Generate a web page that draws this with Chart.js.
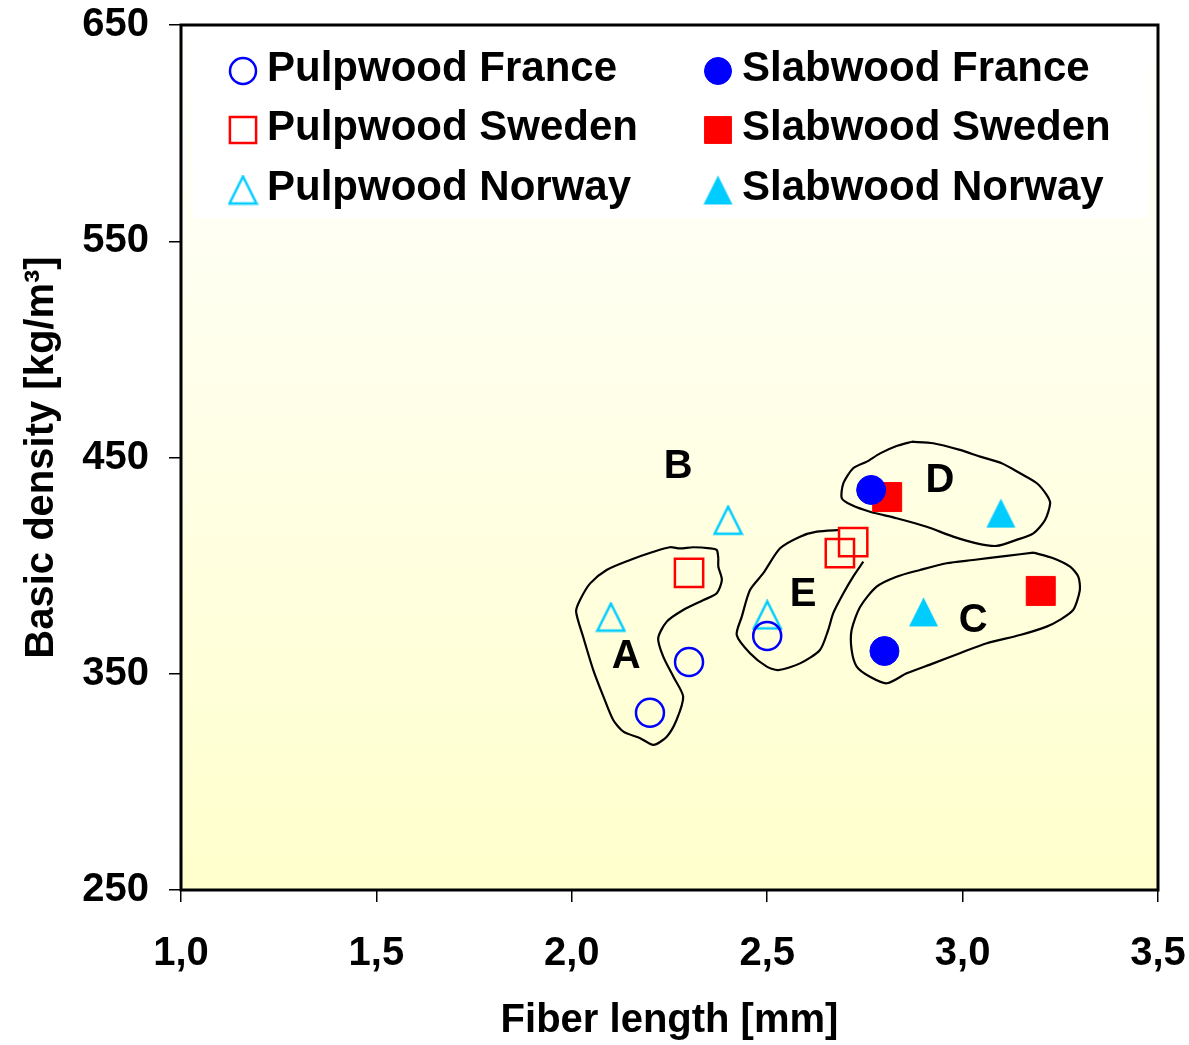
<!DOCTYPE html>
<html>
<head>
<meta charset="utf-8">
<script src="https://cdn.jsdelivr.net/npm/chart.js@4"></script>
<style>
  html, body { margin: 0; padding: 0; background: #fff; }
  #wrap { width: 1189px; height: 1045px; }
</style>
</head>
<body>
<div id="wrap"><canvas id="chart"></canvas></div>
<script>
const FONT = "'Liberation Sans', Arial, sans-serif";

// fibre length [mm] and basic density [kg/m3]
const pulpFranceX = [2.2, 2.3, 2.5];
const pulpFranceY = [332, 355.4, 367.5];
const pulpSwedenX = [2.3, 2.686, 2.72];
const pulpSwedenY = [396.6, 405.8, 410.9];
const pulpNorwayX = [2.1, 2.4, 2.5];
const pulpNorwayY = [376.2, 421, 377.2];
const slabFranceX = [2.766, 2.8];
const slabFranceY = [435, 360.5];
const slabSwedenX = [2.807, 3.2];
const slabSwedenY = [431.7, 388.3];
const slabNorwayX = [3.098, 2.9];
const slabNorwayY = [424.3, 378.6];

const seriesNames = [
  'Pulpwood France', 'Pulpwood Sweden', 'Pulpwood Norway',
  'Slabwood France', 'Slabwood Sweden', 'Slabwood Norway'
];

// hand drawn group outlines, in data units
const blobA = [
  [2.375, 403.4], [2.371, 407.2], [2.354, 408.0], [2.311, 408.5], [2.277, 408.0],
  [2.251, 408.5], [2.209, 406.4], [2.149, 402.6], [2.089, 398.0], [2.047, 391.8],
  [2.021, 384.1], [2.011, 378.7], [2.029, 367.1], [2.055, 351.7], [2.081, 339.4],
  [2.106, 328.6], [2.132, 323.2], [2.175, 320.2], [2.209, 317.1], [2.243, 320.9],
  [2.268, 328.6], [2.285, 339.4], [2.260, 348.6], [2.234, 357.9], [2.221, 366.4],
  [2.243, 374.1], [2.285, 379.5], [2.337, 384.1], [2.371, 387.2], [2.384, 393.4],
  [2.375, 399.5], [2.375, 403.4]
];
const blobE = [
  [2.746, 401.8], [2.720, 394.9], [2.695, 387.2], [2.669, 378.0], [2.656, 370.2],
  [2.635, 361.0], [2.584, 354.8], [2.528, 351.7], [2.499, 353.3], [2.456, 359.5],
  [2.422, 367.9], [2.435, 376.4], [2.456, 388.7], [2.490, 396.5], [2.533, 408.0],
  [2.584, 413.4], [2.627, 415.7], [2.686, 416.5]
];
const blobD = [
  [2.870, 457.3], [2.925, 456.6], [2.993, 453.5], [3.045, 450.4], [3.100, 447.3],
  [3.147, 442.7], [3.190, 438.1], [3.215, 432.7], [3.224, 428.8], [3.211, 421.1],
  [3.181, 414.9], [3.138, 411.9], [3.087, 409.1], [3.036, 410.3], [2.976, 413.4],
  [2.908, 418.0], [2.831, 421.9], [2.763, 424.9], [2.716, 428.0], [2.691, 431.1],
  [2.695, 438.1], [2.720, 445.0], [2.755, 448.1], [2.789, 451.9], [2.831, 455.3],
  [2.870, 457.3]
];
const blobC = [
  [3.181, 406.0], [3.232, 403.4], [3.275, 399.5], [3.296, 394.9], [3.300, 388.7],
  [3.283, 379.5], [3.249, 374.9], [3.215, 371.8], [3.147, 367.9], [3.062, 364.1],
  [2.993, 359.5], [2.925, 354.8], [2.857, 350.2], [2.806, 345.6], [2.763, 348.6],
  [2.729, 353.3], [2.716, 361.0], [2.716, 370.2], [2.738, 381.0], [2.780, 390.3],
  [2.831, 394.9], [2.891, 398.0], [2.959, 401.1], [3.027, 402.6], [3.113, 404.5],
  [3.181, 406.0]
];

const groupNames = ['A', 'B', 'C', 'D', 'E'];
const groupX = [2.139, 2.272, 3.027, 2.942, 2.592];
const groupY = [357.7, 445.6, 374.4, 439.1, 386.4];

const xTicks = [1.0, 1.5, 2.0, 2.5, 3.0, 3.5];
const yTicks = [250, 350, 450, 550, 650];

const BLUE = '#0000ff';
const RED = '#ff0000';
const CYAN = '#00ccff';

function points(xs, ys) {
  return xs.map((x, i) => ({ x, y: ys[i] }));
}

function pairs(list) {
  return list.map((p) => ({ x: p[0], y: p[1] }));
}

function triangleIcon(color, filled) {
  const size = 31;
  const c = document.createElement('canvas');
  c.width = size;
  c.height = size;
  const g = c.getContext('2d');
  const p = filled ? 1 : 2;
  g.beginPath();
  g.moveTo(size / 2, p);
  g.lineTo(size - p, size - p);
  g.lineTo(p, size - p);
  g.closePath();
  if (filled) {
    g.fillStyle = color;
    g.fill();
  } else {
    g.strokeStyle = color;
    g.lineWidth = 2.5;
    g.stroke();
  }
  return c;
}

function markerSet(label, data, style, color, filled, radius) {
  return {
    label,
    data,
    pointStyle: style,
    pointRadius: radius,
    pointHoverRadius: radius,
    pointBackgroundColor: filled ? color : 'rgba(0,0,0,0)',
    pointBorderColor: color,
    pointBorderWidth: filled ? 1 : 2.5,
    backgroundColor: filled ? color : 'rgba(0,0,0,0)',
    borderColor: color,
    showLine: false
  };
}

function outlineSet(label, data) {
  return {
    label,
    data: pairs(data),
    showLine: true,
    borderColor: '#000',
    borderWidth: 2.2,
    pointRadius: 0,
    pointHoverRadius: 0,
    tension: 0.25,
    fill: false,
    isOutline: true
  };
}

const markerSets = [
  markerSet(seriesNames[0], points(pulpFranceX, pulpFranceY), 'circle', BLUE, false, 14),
  markerSet(seriesNames[1], points(pulpSwedenX, pulpSwedenY), 'rect', RED, false, 20),
  markerSet(seriesNames[2], points(pulpNorwayX, pulpNorwayY), triangleIcon(CYAN, false), CYAN, false, 15),
  markerSet(seriesNames[3], points(slabFranceX, slabFranceY), 'circle', BLUE, true, 14.5),
  markerSet(seriesNames[4], points(slabSwedenX, slabSwedenY), 'rect', RED, true, 20.5),
  markerSet(seriesNames[5], points(slabNorwayX, slabNorwayY), triangleIcon(CYAN, true), CYAN, true, 15)
];

const outlineSets = [
  outlineSet('A', blobA),
  outlineSet('C', blobC),
  outlineSet('D', blobD),
  outlineSet('E', blobE)
];

const backdrop = {
  id: 'backdrop',
  beforeDraw(chart) {
    const { ctx, chartArea: a } = chart;
    ctx.save();
    ctx.fillStyle = '#ffffff';
    ctx.fillRect(0, 0, chart.width, chart.height);
    const grad = ctx.createLinearGradient(0, a.top, 0, a.bottom);
    grad.addColorStop(0, '#ffffff');
    grad.addColorStop(1, '#ffffcc');
    ctx.fillStyle = grad;
    ctx.fillRect(a.left, a.top, a.right - a.left, a.bottom - a.top);
    // legend panel
    ctx.fillStyle = '#ffffff';
    ctx.fillRect(a.left + 12, a.top + 2, a.right - a.left - 22, 191);
    ctx.restore();
  }
};

const overlay = {
  id: 'overlay',
  afterDatasetsDraw(chart) {
    const { ctx, chartArea: a, scales } = chart;
    ctx.save();
    // group letters
    ctx.fillStyle = '#000';
    ctx.font = `bold 40px ${FONT}`;
    ctx.textAlign = 'center';
    ctx.textBaseline = 'middle';
    groupNames.forEach((name, i) => {
      ctx.fillText(name, scales.x.getPixelForValue(groupX[i]), scales.y.getPixelForValue(groupY[i]));
    });

    // legend, two columns
    const colMarker = [62, 537];
    const colText = [86, 561];
    const rowY = [46, 105, 165];
    ctx.textAlign = 'left';
    ctx.font = `bold 42px ${FONT}`;
    chart.data.datasets.forEach((ds, i) => {
      if (ds.isOutline) return;
      const col = i < 3 ? 0 : 1;
      const row = i % 3;
      const mx = a.left + colMarker[col];
      const my = a.top + rowY[row];
      ctx.fillStyle = ds.pointBackgroundColor;
      ctx.strokeStyle = ds.pointBorderColor;
      ctx.lineWidth = ds.pointBorderWidth;
      const r = ds.pointStyle === 'rect' ? ds.pointRadius - 1.5 : ds.pointRadius - 1;
      Chart.helpers.drawPoint(ctx, {
        pointStyle: ds.pointStyle,
        radius: r,
        rotation: 0,
        borderWidth: ds.pointBorderWidth
      }, mx, my);
      ctx.fillStyle = '#000';
      ctx.fillText(ds.label, a.left + colText[col], my - 2);
    });
    ctx.restore();
  },
  afterDraw(chart) {
    const { ctx, chartArea: a } = chart;
    ctx.save();
    ctx.strokeStyle = '#000';
    ctx.lineWidth = 3;
    ctx.strokeRect(a.left, a.top, a.right - a.left, a.bottom - a.top);
    ctx.restore();
  }
};

Chart.defaults.font.family = FONT;
Chart.defaults.color = '#000';

new Chart(document.getElementById('chart'), {
  type: 'scatter',
  data: { datasets: [...markerSets, ...outlineSets] },
  options: {
    responsive: true,
    maintainAspectRatio: false,
    animation: false,
    layout: { padding: { top: 25, right: 31, left: 0, bottom: 0 } },
    plugins: {
      legend: { display: false },
      tooltip: { enabled: false }
    },
    scales: {
      x: {
        type: 'linear',
        min: xTicks[0],
        max: xTicks[xTicks.length - 1],
        afterBuildTicks: (scale) => { scale.ticks = xTicks.map((v) => ({ value: v })); },
        afterFit: (scale) => {
          scale.height = 155;
          scale.paddingLeft = 0;
          scale.paddingRight = 0;
        },
        ticks: {
          autoSkip: false,
          maxRotation: 0,
          padding: 28,
          font: { size: 40, weight: 'bold' },
          callback: (v) => v.toFixed(1).replace('.', ',')
        },
        grid: { drawOnChartArea: false, drawTicks: true, tickLength: 12, color: '#000', lineWidth: 1.5 },
        border: { display: false },
        title: {
          display: true,
          text: 'Fiber length [mm]',
          font: { size: 40, weight: 'bold' },
          padding: { top: 0, bottom: 0 }
        }
      },
      y: {
        type: 'linear',
        min: yTicks[0],
        max: yTicks[yTicks.length - 1],
        afterBuildTicks: (scale) => { scale.ticks = yTicks.map((v) => ({ value: v })); },
        afterFit: (scale) => {
          scale.width = 181;
          scale.paddingTop = 0;
          scale.paddingBottom = 0;
        },
        ticks: {
          autoSkip: false,
          padding: 20,
          font: { size: 40, weight: 'bold' }
        },
        grid: { drawOnChartArea: false, drawTicks: true, tickLength: 12, color: '#000', lineWidth: 1.5 },
        border: { display: false },
        title: {
          display: true,
          text: 'Basic density [kg/m³]',
          font: { size: 40, weight: 'bold' },
          padding: { top: 18, bottom: 0 }
        }
      }
    }
  },
  plugins: [backdrop, overlay]
});
</script>
</body>
</html>
